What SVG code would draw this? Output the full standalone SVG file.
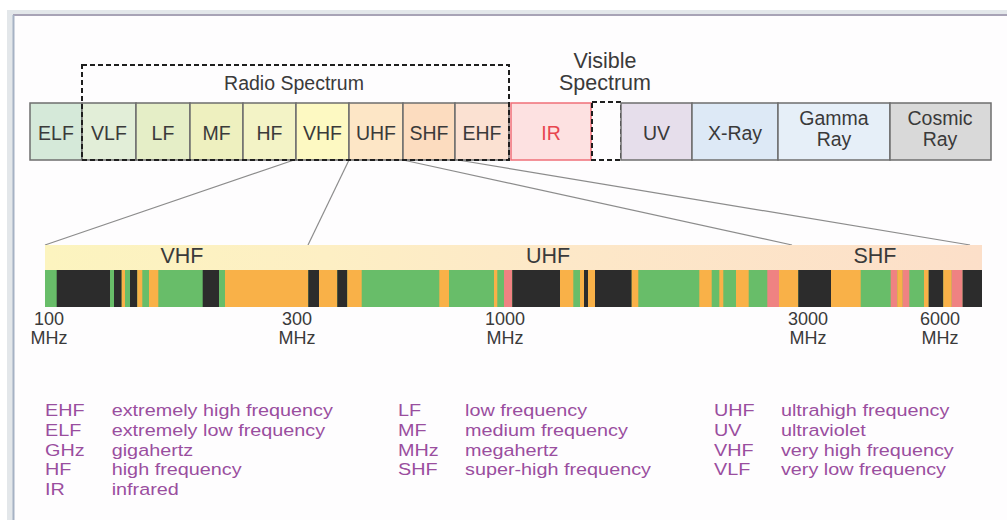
<svg xmlns="http://www.w3.org/2000/svg" width="1007" height="520" viewBox="0 0 1007 520">
<style>
text{font-family:"Liberation Sans",Arial,sans-serif;fill:#3a3a3a}
.box{stroke:#6e6e6e;stroke-width:1.5}
.lbl{font-size:19.5px;text-anchor:middle}
.dash{fill:none;stroke:#1e1e1e;stroke-width:2;stroke-dasharray:5 3}
.conn{stroke:#8c8c8c;stroke-width:1.2;fill:none}
.g{fill:#68bd69}.k{fill:#2c2c2c}.o{fill:#f9b148}.p{fill:#ef8282}
.tick{font-size:18px;text-anchor:middle}
.band{font-size:21.5px;text-anchor:middle}
.leg text{fill:#9a4e9f;font-size:16.5px}
</style>
<defs>
<linearGradient id="bandGrad" x1="0" x2="1" y1="0" y2="0">
<stop offset="0" stop-color="#fcf4bf"/>
<stop offset="0.3" stop-color="#fdefc4"/>
<stop offset="0.55" stop-color="#fde8c8"/>
<stop offset="1" stop-color="#fcdfc9"/>
</linearGradient>
</defs>
<rect width="1007" height="520" fill="#ffffff"/>
<rect x="7" y="10" width="1000" height="510" fill="#e3e7ea"/>
<rect x="14" y="16" width="993" height="504" fill="#fefdfe"/>
<line x1="13" y1="15" x2="1007" y2="15" stroke="#a8a3b6" stroke-width="2"/>
<line x1="13.5" y1="15" x2="13.5" y2="520" stroke="#a6b2c4" stroke-width="2"/>

<g id="connectors">
<line class="conn" x1="294" y1="160" x2="45" y2="245"/>
<line class="conn" x1="349" y1="160" x2="308" y2="245"/>
<line class="conn" x1="403" y1="160" x2="792" y2="245"/>
<line class="conn" x1="458" y1="160" x2="970" y2="245"/>
</g>

<g id="ELF"><rect class="box" x="30" y="103" width="52" height="57" fill="#d5e9d9"/><text class="lbl" x="56" y="140">ELF</text></g>
<g id="VLF"><rect class="box" x="82" y="103" width="54" height="57" fill="#e2eed8"/><text class="lbl" x="109" y="140">VLF</text></g>
<g id="LF"><rect class="box" x="136" y="103" width="54" height="57" fill="#e5eec7"/><text class="lbl" x="163" y="140">LF</text></g>
<g id="MF"><rect class="box" x="190" y="103" width="53" height="57" fill="#eef0bf"/><text class="lbl" x="216.5" y="140">MF</text></g>
<g id="HF"><rect class="box" x="243" y="103" width="53" height="57" fill="#f3f3c6"/><text class="lbl" x="269.5" y="140">HF</text></g>
<g id="VHF"><rect class="box" x="296" y="103" width="53" height="57" fill="#fdf9c2"/><text class="lbl" x="322.5" y="140">VHF</text></g>
<g id="UHF"><rect class="box" x="349" y="103" width="54" height="57" fill="#fde6c6"/><text class="lbl" x="376" y="140">UHF</text></g>
<g id="SHF"><rect class="box" x="403" y="103" width="52" height="57" fill="#fcdcbf"/><text class="lbl" x="429" y="140">SHF</text></g>
<g id="EHF"><rect class="box" x="455" y="103" width="54" height="57" fill="#fbe1d2"/><text class="lbl" x="482" y="140">EHF</text></g>
<g id="radio-spectrum"><rect class="dash" x="82" y="65" width="427" height="95"/><text x="294" y="90" style="font-size:19.5px;text-anchor:middle">Radio Spectrum</text></g>
<g id="IR"><rect x="511" y="103" width="80" height="57" fill="#fde1e1" stroke="#ef6f78" stroke-width="1.5"/><text class="lbl" x="551" y="140" style="fill:#e8464f">IR</text></g>
<g id="visible"><rect class="dash" x="592" y="102" width="29" height="58" fill="#ffffff"/><text x="605" y="68" style="font-size:21.5px;text-anchor:middle">Visible</text><text x="605" y="90" style="font-size:21.5px;text-anchor:middle">Spectrum</text></g>
<g id="UV"><rect class="box" x="621" y="103" width="71" height="57" fill="#e6deeb"/><text class="lbl" x="656.5" y="140">UV</text></g>
<g id="XRay"><rect class="box" x="692" y="103" width="86" height="57" fill="#dde9f6"/><text class="lbl" x="735" y="140">X-Ray</text></g>
<g id="Gamma"><rect class="box" x="778" y="103" width="112" height="57" fill="#e6eff8"/><text class="lbl" x="834" y="125">Gamma</text><text class="lbl" x="834" y="146">Ray</text></g>
<g id="Cosmic"><rect class="box" x="890" y="103" width="101" height="57" fill="#d9d9d9"/><text class="lbl" x="940" y="125">Cosmic</text><text class="lbl" x="940" y="146">Ray</text></g>

<g id="band">
<rect x="45" y="245" width="937" height="25" fill="url(#bandGrad)"/>
<text class="band" x="182" y="263">VHF</text>
<text class="band" x="548" y="263">UHF</text>
<text class="band" x="875" y="263">SHF</text>
</g>

<g id="bar">
<rect class="g" x="45" y="270" width="937" height="37"/>
<rect class="k" x="56.7" y="270" width="53.3" height="37"/>
<rect class="k" x="114" y="270" width="7.7" height="37"/>
<rect class="o" x="121.7" y="270" width="3.3" height="37"/>
<rect class="k" x="130" y="270" width="7.3" height="37"/>
<rect class="o" x="137.3" y="270" width="5" height="37"/>
<rect class="o" x="149" y="270" width="9.3" height="37"/>
<rect class="k" x="202.7" y="270" width="16.3" height="37"/>
<rect class="o" x="225" y="270" width="83.3" height="37"/>
<rect class="k" x="308.3" y="270" width="10.7" height="37"/>
<rect class="o" x="319" y="270" width="18.3" height="37"/>
<rect class="k" x="337.3" y="270" width="10" height="37"/>
<rect class="o" x="347.3" y="270" width="14.4" height="37"/>
<rect class="o" x="439.3" y="270" width="9.7" height="37"/>
<rect class="o" x="494" y="270" width="3.3" height="37"/>
<rect class="p" x="504" y="270" width="8.3" height="37"/>
<rect class="k" x="512.3" y="270" width="47.7" height="37"/>
<rect class="o" x="560" y="270" width="13.3" height="37"/>
<rect class="o" x="580" y="270" width="4" height="37"/>
<rect class="k" x="584" y="270" width="4" height="37"/>
<rect class="o" x="588" y="270" width="7" height="37"/>
<rect class="k" x="595" y="270" width="36.7" height="37"/>
<rect class="o" x="631.7" y="270" width="6.6" height="37"/>
<rect class="o" x="699.3" y="270" width="12.4" height="37"/>
<rect class="o" x="719.3" y="270" width="4" height="37"/>
<rect class="o" x="736" y="270" width="12.7" height="37"/>
<rect class="p" x="767.3" y="270" width="11.7" height="37"/>
<rect class="o" x="779" y="270" width="19.3" height="37"/>
<rect class="k" x="798.3" y="270" width="32.7" height="37"/>
<rect class="o" x="831" y="270" width="29.7" height="37"/>
<rect class="p" x="890.7" y="270" width="6.6" height="37"/>
<rect class="o" x="897.3" y="270" width="5.4" height="37"/>
<rect class="p" x="902.7" y="270" width="6.6" height="37"/>
<rect class="o" x="924" y="270" width="4.7" height="37"/>
<rect class="k" x="928.7" y="270" width="14.6" height="37"/>
<rect class="o" x="943.3" y="270" width="8.4" height="37"/>
<rect class="p" x="951.7" y="270" width="11" height="37"/>
<rect class="k" x="962.7" y="270" width="19.3" height="37"/>
</g>

<g id="ticks">
<text class="tick" x="49" y="325">100</text><text class="tick" x="49" y="344">MHz</text>
<text class="tick" x="297" y="325">300</text><text class="tick" x="297" y="344">MHz</text>
<text class="tick" x="505" y="325">1000</text><text class="tick" x="505" y="344">MHz</text>
<text class="tick" x="808" y="325">3000</text><text class="tick" x="808" y="344">MHz</text>
<text class="tick" x="940" y="325">6000</text><text class="tick" x="940" y="344">MHz</text>
</g>

<g id="legend" class="leg" transform="scale(1.2 1)">
<text x="37.5" y="416">EHF</text><text x="93.1" y="416">extremely high frequency</text>
<text x="37.5" y="436">ELF</text><text x="93.1" y="436">extremely low frequency</text>
<text x="37.5" y="456">GHz</text><text x="93.1" y="456">gigahertz</text>
<text x="37.5" y="475">HF</text><text x="93.1" y="475">high frequency</text>
<text x="37.5" y="495">IR</text><text x="93.1" y="495">infrared</text>
<text x="331.7" y="416">LF</text><text x="387.5" y="416">low frequency</text>
<text x="331.7" y="436">MF</text><text x="387.5" y="436">medium frequency</text>
<text x="331.7" y="456">MHz</text><text x="387.5" y="456">megahertz</text>
<text x="331.7" y="475">SHF</text><text x="387.5" y="475">super-high frequency</text>
<text x="595" y="416">UHF</text><text x="650.8" y="416">ultrahigh frequency</text>
<text x="595" y="436">UV</text><text x="650.8" y="436">ultraviolet</text>
<text x="595" y="456">VHF</text><text x="650.8" y="456">very high frequency</text>
<text x="595" y="475">VLF</text><text x="650.8" y="475">very low frequency</text>
</g>
</svg>
